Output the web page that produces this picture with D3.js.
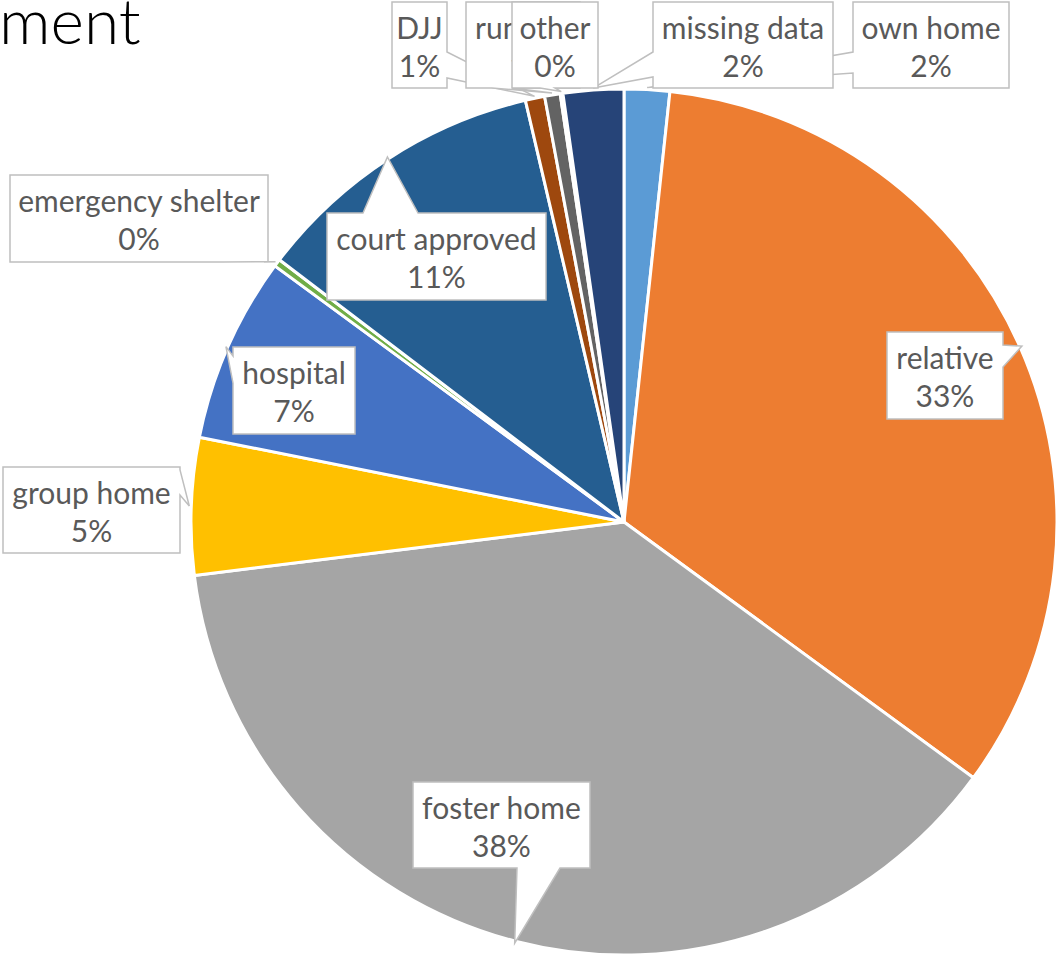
<!DOCTYPE html>
<html>
<head>
<meta charset="utf-8">
<script src="https://cdn.jsdelivr.net/npm/d3@7"></script>
<style>
  html, body { margin: 0; padding: 0; background: #fff; }
  svg { display: block; }
</style>
</head>
<body>
<svg id="chart" width="1056" height="958"></svg>
<script>
// ---- data ----
const categories = ["own home", "relative", "foster home", "group home", "hospital",
  "emergency shelter", "court approved", "DJJ", "runaway", "other", "missing data"];
const values = [1.69, 33.3, 37.9, 5.1, 6.92, 0.28, 10.97, 0.72, 0.58, 0.1, 2.25];
const colors = ["#5B9BD5", "#ED7D31", "#A5A5A5", "#FFC000", "#4472C4",
  "#70AD47", "#255E91", "#9E480E", "#636363", "#997300", "#264478"];
const titleText = "ment";

// ---- label box layout (x0, y0, x1, y1, wedge side, wedge base a..b) ----
const boxes = {
  "own home":          [853, 2, 1009, 88, "left", 52, 73],
  "DJJ":               [392, 2, 447, 88, "right", 52, 78],
  "runaway":           [466, 2, 580, 88, "bottom", 492, 512],
  "other":             [512, 2, 598, 88, "bottom", 540, 555],
  "missing data":      [653, 2, 833, 88, "left", 52, 77],
  "emergency shelter": [10, 175, 268, 262, "bottom", 223, 264],
  "court approved":    [327, 213, 546, 300, "top", 363, 418],
  "relative":          [887, 332, 1003, 419, "right", 345, 367],
  "foster home":       [413, 782, 590, 868, "bottom", 517, 560],
  "hospital":          [233, 347, 355, 434, "left", 356, 383],
  "group home":        [3, 467, 180, 553, "right", 470, 495]
};
const drawOrder = ["own home", "missing data", "DJJ", "runaway", "other",
  "emergency shelter", "court approved", "relative", "foster home", "hospital", "group home"];

const svg = d3.select("#chart");
const cx = 624, cy = 522, R = 433;

const total = d3.sum(values);
const pie = d3.pie().sort(null).value(d => d.v).startAngle(0).endAngle(2 * Math.PI);
const arcs = pie(categories.map((c, i) => ({ c, v: values[i], color: colors[i] })));
const arc = d3.arc().innerRadius(0).outerRadius(R);

const g = svg.append("g").attr("transform", `translate(${cx},${cy})`);
g.selectAll("path.slice").data(arcs).join("path")
  .attr("class", "slice")
  .attr("d", arc)
  .attr("fill", d => d.data.color)
  .attr("stroke", "#fff")
  .attr("stroke-width", 3)
  .attr("stroke-linejoin", "round");

// title fragment
svg.append("text")
  .attr("x", -1).attr("y", 44)
  .attr("font-family", "Lato, 'Open Sans', sans-serif")
  .attr("font-weight", 300)
  .attr("font-size", 64)
  .attr("fill", "#000")
  .text(titleText);

function apexOf(name) {
  const a = arcs.find(d => d.data.c === name);
  const mid = (a.startAngle + a.endAngle) / 2;
  const r = R + 2;
  return [cx + r * Math.sin(mid), cy - r * Math.cos(mid)];
}

function calloutPath(b, apex) {
  const [x0, y0, x1, y1, side, a, c] = b;
  const [px, py] = apex;
  const p = d3.path();
  p.moveTo(x0, y0);
  if (side === "top") { p.lineTo(a, y0); p.lineTo(px, py); p.lineTo(c, y0); }
  p.lineTo(x1, y0);
  if (side === "right") { p.lineTo(x1, a); p.lineTo(px, py); p.lineTo(x1, c); }
  p.lineTo(x1, y1);
  if (side === "bottom") { p.lineTo(c, y1); p.lineTo(px, py); p.lineTo(a, y1); }
  p.lineTo(x0, y1);
  if (side === "left") { p.lineTo(x0, c); p.lineTo(px, py); p.lineTo(x0, a); }
  p.closePath();
  return p.toString();
}

const lg = svg.append("g").attr("class", "labels");
drawOrder.forEach(name => {
  const b = boxes[name];
  const i = categories.indexOf(name);
  const pct = Math.round(values[i] / total * 100) + "%";
  const grp = lg.append("g");
  grp.append("path")
    .attr("d", calloutPath(b, apexOf(name)))
    .attr("fill", "#fff")
    .attr("stroke", "#BFBFBF")
    .attr("stroke-width", 1.5)
    .attr("stroke-linejoin", "miter");
  const mx = (b[0] + b[2]) / 2;
  const t = grp.append("text")
    .attr("text-anchor", "middle")
    .attr("font-family", "Lato, 'Open Sans', sans-serif")
    .attr("font-size", 30)
    .attr("fill", "#595959");
  if (name === "runaway") {
    t.attr("text-anchor", "start");
    t.append("tspan").attr("x", b[0] + 9).attr("y", b[1] + 37).text(name);
    t.append("tspan").attr("x", mx - 14).attr("y", b[1] + 75).text(pct);
  } else {
    t.append("tspan").attr("x", mx).attr("y", b[1] + 37).text(name);
    t.append("tspan").attr("x", mx).attr("y", b[1] + 75).text(pct);
  }
});
</script>
</body>
</html>
